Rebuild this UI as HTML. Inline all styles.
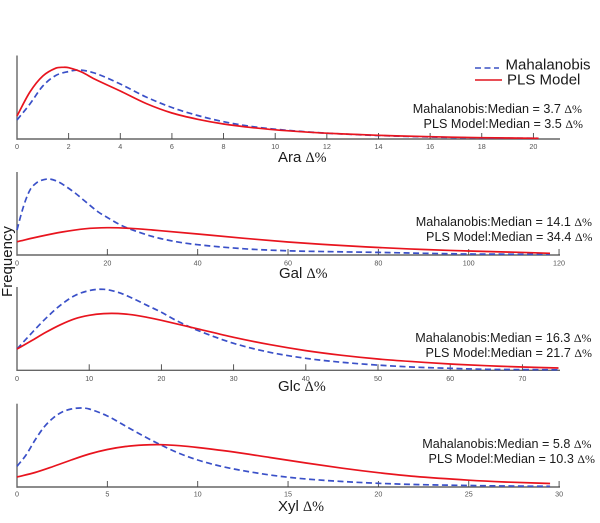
<!DOCTYPE html>
<html lang="en">
<head>
<meta charset="utf-8">
<title>Median delta percent distributions</title>
<style>
html,body{margin:0;padding:0;background:#fff;width:600px;height:523px;overflow:hidden}
svg{display:block;filter:blur(0.3px)}
text{font-family:"Liberation Sans",sans-serif;fill:#1a1a1a}
.d{font-family:"Liberation Serif",serif;font-size:0.95em}
.m{font-size:12.6px}
.t{font-size:15px}
.l{font-size:15px}
</style>
</head>
<body>
<svg id="chart" width="600" height="523" viewBox="0 0 600 523" xmlns="http://www.w3.org/2000/svg">
  <g id="plots"></g>

  <g>
    <line x1="475" y1="68" x2="499" y2="68" stroke="#3a50c4" stroke-width="1.6" stroke-dasharray="6 3.5"/>
    <text class="l" x="505.500" y="69.500">Mahalanobis</text>
    <line x1="475" y1="80" x2="502" y2="80" stroke="#e0141e" stroke-width="1.6"/>
    <text class="l" x="507" y="84.500">PLS Model</text>
  </g>

  <text class="t" transform="translate(12,261.500) rotate(-90)" text-anchor="middle">Frequency</text>

  <text class="t" x="278" y="162">Ara <tspan class="d">Δ%</tspan></text>
  <text class="t" x="279" y="278">Gal <tspan class="d">Δ%</tspan></text>
  <text class="t" x="278" y="391">Glc <tspan class="d">Δ%</tspan></text>
  <text class="t" x="278" y="511">Xyl <tspan class="d">Δ%</tspan></text>

  <text class="m" x="582" y="113" text-anchor="end">Mahalanobis:Median = 3.7 <tspan class="d">Δ%</tspan></text>
  <text class="m" x="583" y="128" text-anchor="end">PLS Model:Median = 3.5 <tspan class="d">Δ%</tspan></text>
  <text class="m" x="592" y="226" text-anchor="end">Mahalanobis:Median = 14.1 <tspan class="d">Δ%</tspan></text>
  <text class="m" x="592.500" y="241" text-anchor="end">PLS Model:Median = 34.4 <tspan class="d">Δ%</tspan></text>
  <text class="m" x="591.500" y="342" text-anchor="end">Mahalanobis:Median = 16.3 <tspan class="d">Δ%</tspan></text>
  <text class="m" x="592" y="357" text-anchor="end">PLS Model:Median = 21.7 <tspan class="d">Δ%</tspan></text>
  <text class="m" x="591.500" y="448" text-anchor="end">Mahalanobis:Median = 5.8 <tspan class="d">Δ%</tspan></text>
  <text class="m" x="595" y="463" text-anchor="end">PLS Model:Median = 10.3 <tspan class="d">Δ%</tspan></text>
</svg>

<script>
// Ara
const araTicks = [0, 2, 4, 6, 8, 10, 12, 14, 16, 18, 20];
const araMahalanobisX = [0, 0.5, 1, 1.5, 2, 2.4, 3, 4, 5, 6, 7, 8, 9, 10, 11, 12, 14, 16, 18, 20.2];
const araMahalanobisY = [19, 35, 53, 63.5, 67.5, 69, 66, 55, 42, 31.5, 23.5, 17.3, 12.8, 9.8, 7.6, 5.8, 3.5, 2, 1, 0.7];
const araPlsX = [0, 0.5, 1, 1.5, 1.8, 2, 2.5, 3, 4, 5, 6, 7, 8, 9, 10, 11, 12, 14, 16, 18, 20.2];
const araPlsY = [23, 47, 63, 70.8, 71.7, 71.3, 67, 60, 48, 35.5, 26, 19.7, 15, 11.7, 9.2, 7.3, 5.8, 3.7, 2.3, 1.3, 0.7];

// Gal
const galTicks = [0, 20, 40, 60, 80, 100, 120];
const galMahalanobisX = [0, 1, 2, 3, 4, 5, 7, 9, 11, 13, 15, 18, 20, 22.5, 25, 30, 35, 40, 50, 60, 70, 80, 90, 100, 118];
const galMahalanobisY = [25, 42, 56, 66, 71, 74, 76, 73.5, 68, 61.5, 54, 43, 37.5, 31, 26, 18.5, 13.5, 10.3, 6.3, 4.2, 3.3, 2.6, 1.7, 1, 0.7];
const galPlsX = [0, 5, 10, 15, 20, 25, 30, 40, 50, 60, 70, 80, 90, 100, 110, 118];
const galPlsY = [13.3, 18.5, 23, 26.2, 27.3, 26.7, 25, 21, 16.8, 13, 10, 7.5, 5.5, 4, 2.8, 1.7];

// Glc
const glcTicks = [0, 10, 20, 30, 40, 50, 60, 70];
const glcMahalanobisX = [0, 2, 4, 6, 8, 10, 12, 14, 16, 18, 20, 22, 25, 30, 35, 40, 45, 50, 55, 60, 65, 70, 75];
const glcMahalanobisY = [21.3, 37, 52, 65, 74.7, 79.7, 81, 78, 72, 65, 58, 50, 40, 27, 18, 12, 8, 5.2, 3.2, 2, 1, 0.7, 0.5];
const glcPlsX = [0, 2, 4, 6, 8, 10, 12, 14, 16, 18, 20, 25, 30, 35, 40, 45, 50, 55, 60, 65, 70, 75];
const glcPlsY = [21.3, 29.5, 38, 45.5, 51.5, 55, 56.7, 56.8, 55.5, 53, 50, 41.5, 33, 25.7, 19.7, 15, 11.3, 8.6, 6.3, 4.6, 3.3, 2.3];

// Xyl
const xylTicks = [0, 5, 10, 15, 20, 25, 30];
const xylMahalanobisX = [0, 0.5, 1, 1.5, 2, 2.5, 3, 3.5, 4, 5, 6, 7, 8, 9, 10, 11, 12, 13, 14, 15, 16, 18, 20, 22, 25, 27, 29.5];
const xylMahalanobisY = [20.7, 32, 47, 60, 69, 75, 78, 79, 78, 71, 61, 51, 41.7, 33.5, 27, 22, 18, 14.8, 12, 9.8, 8, 5.5, 3.7, 2.5, 1.5, 1, 0.7];
const xylPlsX = [0, 1, 2, 3, 4, 5, 6, 7, 8, 9, 10, 12, 14, 16, 18, 20, 22, 25, 27, 29.5];
const xylPlsY = [10, 14.5, 20.5, 27, 33, 37.5, 40.5, 42, 42.3, 41.3, 39.5, 35, 29.5, 24, 18.8, 14.3, 10.6, 6.8, 5, 3.5];

const SVG_NS = 'http://www.w3.org/2000/svg';
const plots = document.getElementById('plots');

function add(parent, tag, attrs) {
  const el = document.createElementNS(SVG_NS, tag);
  for (const k in attrs) el.setAttribute(k, attrs[k]);
  parent.appendChild(el);
  return el;
}

function smoothPath(px, py) {
  let d = 'M' + px[0].toFixed(2) + ' ' + py[0].toFixed(2);
  for (let i = 0; i < px.length - 1; i++) {
    const a = Math.max(i - 1, 0), b = Math.min(i + 2, px.length - 1);
    const h = px[i + 1] - px[i];
    const m1 = (py[i + 1] - py[a]) / (px[i + 1] - px[a]);
    const m2 = (py[b] - py[i]) / (px[b] - px[i]);
    const c1x = px[i] + h / 3;
    const c1y = py[i] + m1 * h / 3;
    const c2x = px[i + 1] - h / 3;
    const c2y = py[i + 1] - m2 * h / 3;
    d += 'C' + c1x.toFixed(2) + ' ' + c1y.toFixed(2) + ' ' + c2x.toFixed(2) + ' ' + c2y.toFixed(2) + ' ' + px[i + 1].toFixed(2) + ' ' + py[i + 1].toFixed(2);
  }
  return d;
}

function drawPanel(cfg) {
  const xScale = v => 17 + v * cfg.pxPerUnit;
  const yScale = v => cfg.base - v;

  const g = add(plots, 'g', {});
  
  

  const yAxis = add(g, 'line', {x1: 17, y1: cfg.top, x2: 17, y2: cfg.base + 0.7, stroke: '#666', 'stroke-width': 1.4});
  
  

  const xAxis = add(g, 'line', {x1: 16.500, y1: cfg.base, x2: 560, y2: cfg.base, stroke: '#666', 'stroke-width': 1.4});
  
  

  cfg.ticks.forEach(t => {
    const x = xScale(t);
    if (t !== 0) {
      const tick = add(g, 'line', {x1: x, y1: cfg.base - 6, x2: x, y2: cfg.base, stroke: '#444', 'stroke-width': 0.9});
      
      
    }
    const label = add(g, 'text', {x: x, y: cfg.base + cfg.labelGap, 'text-anchor': 'middle', 'font-size': 7.2, style: 'fill:#555'});
    label.textContent = String(t);
    
    
  });

  const blue = add(g, 'path', {
    d: smoothPath(cfg.mx.map(xScale), cfg.my.map(yScale)),
    fill: 'none', stroke: '#3a50c8', 'stroke-width': 1.7, 'stroke-dasharray': '6 3.5'
  });
  
  

  const red = add(g, 'path', {
    d: smoothPath(cfg.px.map(xScale), cfg.py.map(yScale)),
    fill: 'none', stroke: '#e8141e', 'stroke-width': 1.7
  });
  
  
}

drawPanel({name: 'ara', top: 55.5, base: 139, pxPerUnit: 25.82, labelGap: 10, ticks: araTicks,
  mx: araMahalanobisX, my: araMahalanobisY, px: araPlsX, py: araPlsY});
drawPanel({name: 'gal', top: 172, base: 255, pxPerUnit: 4.517, labelGap: 10.7, ticks: galTicks,
  mx: galMahalanobisX, my: galMahalanobisY, px: galPlsX, py: galPlsY});
drawPanel({name: 'glc', top: 287, base: 370.3, pxPerUnit: 7.22, labelGap: 10.7, ticks: glcTicks,
  mx: glcMahalanobisX, my: glcMahalanobisY, px: glcPlsX, py: glcPlsY});
drawPanel({name: 'xyl', top: 403.7, base: 487, pxPerUnit: 18.07, labelGap: 9.5, ticks: xylTicks,
  mx: xylMahalanobisX, my: xylMahalanobisY, px: xylPlsX, py: xylPlsY});
</script>
</body>
</html>
